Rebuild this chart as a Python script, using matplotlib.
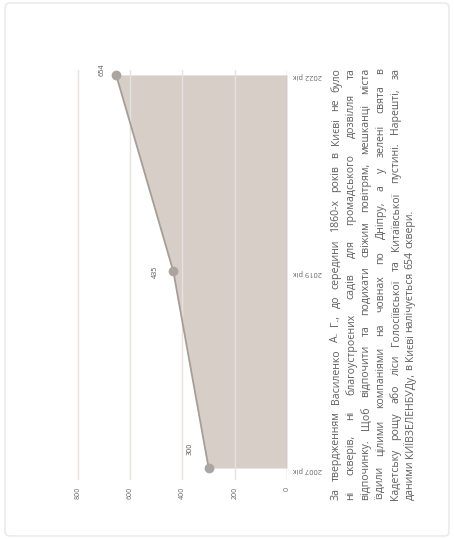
import matplotlib
matplotlib.use("Agg")
import matplotlib.pyplot as plt
from matplotlib.patches import FancyBboxPatch

plt.rcParams['font.family'] = ['Open Sans', 'DejaVu Sans']

# data
years = ["2007 рік", "2019 рік", "2022 рік"]
squares = [300, 435, 654]
value_ticks = [0, 200, 400, 600, 800]
note_lines = [
    "За твердженням Василенко А. Г., до середини 1860-х років в Києві не було",
    "ні скверів, ні благоустроєних садів для громадського дозвілля та",
    "відпочинку. Щоб відпочити та подихати свіжим повітрям, мешканці міста",
    "їздили цілими компаніями на човнах по Дніпру, а у зелені свята в",
    "Кадетську рощу або ліси Голосіївської та Китаївської пустині. Нарешті, за",
    "даними КИЇВЗЕЛЕНБУДу, в Києві налічується 654 сквери.",
]

W, H = 454, 539
fig = plt.figure(figsize=(W / 100, H / 100), dpi=100)
fig.patch.set_facecolor("white")

# card frame
fig.patches.append(FancyBboxPatch((5 / W, 3 / H), 444 / W, 533 / H,
                                  boxstyle="round,pad=0,rounding_size=0.01",
                                  transform=fig.transFigure, fc="none",
                                  ec="#ebebeb", lw=1.2, zorder=-1))

# the chart is drawn turned a quarter turn: values run right-to-left, years bottom-to-top
ax = fig.add_axes([70 / W, 59 / H, 217 / W, 410 / H])
ax.set_facecolor("none")
pos = list(range(len(years)))

ax.fill_betweenx(pos, 0, squares, color="#d6cec7", lw=0, zorder=1)
for v in value_ticks[1:]:
    ax.axvline(v, color="#e6e1dc", lw=1, zorder=2)
ax.axvline(0, color="#c4beb8", lw=1, zorder=2)
ax.plot(squares, pos, color="#a59d96", lw=1.3, marker="o", ms=6,
        mfc="#aaa5a0", mec="#aaa5a0", zorder=3)

offsets = [(-13, 14), (-13, 0), (-10, 4)]
for v, p, off in zip(squares, pos, offsets):
    ax.annotate(str(v), (v, p), xytext=off, textcoords="offset points",
                rotation=90, ha="center", va="center", fontsize=5.2,
                color="#555555")

ax.set_xlim(830.6, 0)
ax.set_ylim(-0.061, 2.025)
ax.set_xticks(value_ticks)
ax.set_xticklabels([str(v) for v in value_ticks], rotation=90, fontsize=5,
                   color="#666666")
ax.set_yticks(pos)
ax.set_yticklabels(years, rotation=180, fontsize=5.4, color="#666666")
ax.yaxis.tick_right()
ax.tick_params(axis="both", length=0)
ax.tick_params(axis="x", pad=5)
ax.tick_params(axis="y", pad=4)
for s in ax.spines.values():
    s.set_visible(False)

# justified paragraph, rotated to read bottom-to-top
fs = 7.6
line_x = [336, 351, 366, 381, 396, 410]
y0, y1 = 39, 471
fig.canvas.draw()
r = fig.canvas.get_renderer()


def text_width(s):
    t = fig.text(0, 0, s, fontsize=fs)
    w = t.get_window_extent(r).width
    t.remove()
    return w


space = text_width("a b") - text_width("ab")
for i, (line, lx) in enumerate(zip(note_lines, line_x)):
    words = line.split()
    widths = [text_width(w) for w in words]
    if i < len(note_lines) - 1:
        gap = (y1 - y0 - sum(widths)) / (len(words) - 1)
    else:
        gap = space
    y = y0
    for w, wd in zip(words, widths):
        fig.text(lx / W, y / H, w, fontsize=fs, color="#5e5e5e", rotation=90,
                 rotation_mode="anchor", ha="left", va="center")
        y += wd + gap

fig.savefig("out.png", dpi=100, facecolor="white")
